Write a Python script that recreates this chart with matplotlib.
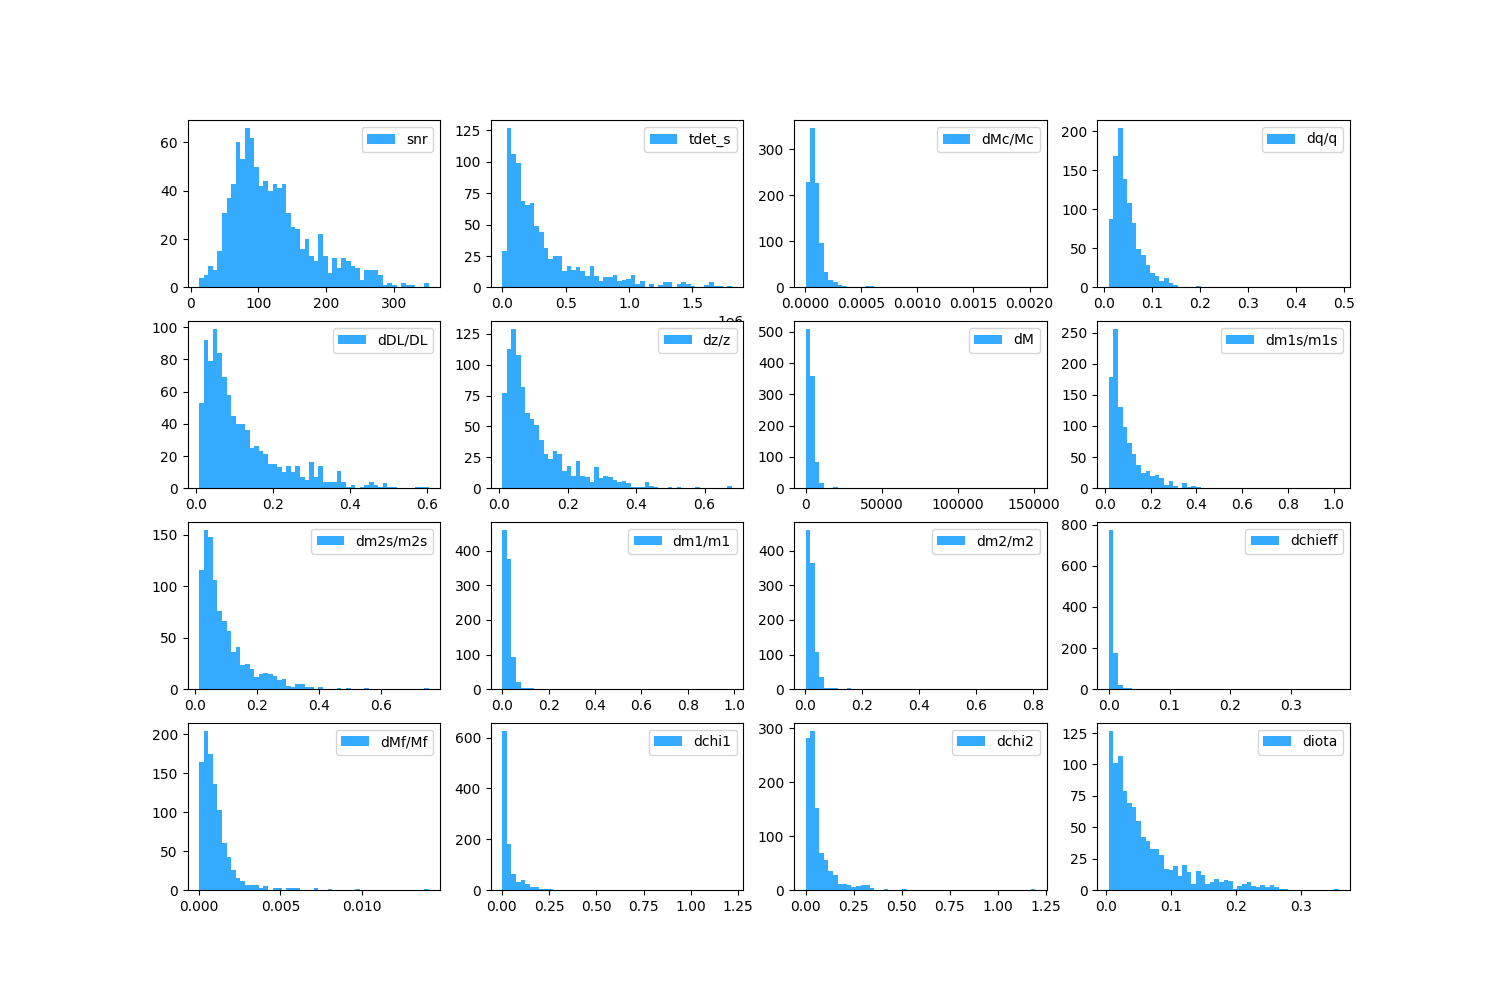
import numpy as np
import matplotlib
matplotlib.use("Agg")
import matplotlib.pyplot as plt

# panel names, in grid order
names = ["snr", "tdet_s", "dMc/Mc", "dq/q",
         "dDL/DL", "dz/z", "dM", "dm1s/m1s",
         "dm2s/m2s", "dm1/m1", "dm2/m2", "dchieff",
         "dMf/Mf", "dchi1", "dchi2", "diota"]

# (min, max) of each sample
ranges = [(12, 352), (0, 1.813e6), (7e-6, 2.05e-3), (0.010, 0.489),
          (0.008, 0.605), (0.009, 0.68), (0, 151000), (0.017, 1.02),
          (0.013, 0.754), (0.0, 0.99), (0.003, 0.808), (0.0, 0.378),
          (0.0, 0.0141), (0.002, 1.218), (0.0, 1.195), (0.0035, 0.357)]

# counts per bin (50 bins each)
snr = [4, 5, 9, 7, 15, 31, 37, 43, 60, 53,
       66, 62, 50, 42, 44, 40, 43, 41, 43, 31,
       25, 24, 16, 20, 13, 11, 22, 13, 6, 12,
       8, 12, 11, 9, 8, 3, 7, 7, 7, 5,
       1, 2, 1, 0, 2, 1, 1, 0, 0, 2]
tdet_s = [29, 127, 106, 99, 69, 66, 67, 49, 44, 31,
          23, 25, 25, 13, 17, 14, 16, 13, 9, 17,
          9, 5, 8, 8, 10, 5, 6, 7, 10, 3,
          5, 0, 3, 0, 2, 4, 4, 0, 3, 4,
          3, 1, 0, 0, 2, 4, 1, 1, 0, 1]
dMc = [229, 346, 227, 97, 33, 17, 12, 6, 3, 0,
       0, 0, 0, 2, 2, 0, 0, 0, 0, 0,
       0, 0, 0, 0, 0, 0, 0, 0, 0, 0,
       0, 0, 0, 0, 0, 0, 0, 0, 0, 0,
       0, 0, 0, 0, 0, 0, 0, 0, 0, 1]
dq = [87, 168, 204, 139, 108, 82, 49, 41, 29, 18,
      14, 8, 12, 6, 3, 0, 0, 0, 0, 2,
      0, 0, 0, 0, 0, 0, 0, 0, 0, 0,
      0, 0, 0, 0, 0, 0, 0, 0, 0, 0,
      0, 0, 0, 0, 0, 0, 0, 0, 0, 1]
dDL = [53, 92, 79, 99, 84, 69, 58, 45, 40, 40,
       36, 25, 26, 23, 21, 15, 15, 13, 10, 14,
       10, 14, 7, 5, 16, 7, 14, 4, 4, 4,
       11, 4, 1, 2, 0, 1, 2, 4, 2, 1,
       3, 1, 1, 0, 0, 0, 0, 1, 1, 1]
dz = [77, 113, 129, 108, 82, 61, 56, 51, 39, 28,
      24, 30, 28, 14, 18, 10, 22, 10, 9, 5,
      17, 8, 10, 9, 7, 5, 6, 4, 1, 1,
      1, 5, 2, 1, 0, 0, 1, 0, 1, 0,
      0, 0, 1, 0, 0, 0, 0, 0, 0, 2]
dM = [509, 359, 85, 16, 0, 0, 4, 0, 0, 0,
      0, 0, 0, 0, 0, 0, 0, 0, 0, 0,
      0, 0, 0, 0, 0, 0, 0, 0, 0, 0,
      0, 0, 0, 0, 0, 0, 0, 0, 0, 0,
      0, 0, 0, 0, 0, 0, 0, 0, 0, 1]
dm1s = [179, 256, 131, 99, 73, 55, 38, 25, 27, 19,
        22, 17, 5, 12, 3, 0, 8, 2, 4, 2,
        0, 0, 0, 0, 0, 0, 0, 0, 0, 0,
        0, 0, 0, 0, 0, 0, 0, 0, 0, 0,
        0, 0, 0, 0, 0, 0, 0, 0, 0, 1]
dm2s = [116, 155, 148, 106, 76, 66, 57, 36, 41, 23,
        24, 20, 12, 15, 16, 15, 13, 9, 10, 3,
        2, 5, 5, 2, 2, 0, 2, 0, 0, 0,
        1, 0, 1, 0, 0, 0, 1, 0, 0, 0,
        0, 0, 0, 0, 0, 0, 0, 0, 0, 1]
dm1 = [461, 377, 94, 22, 4, 4, 3, 0, 0, 0,
       0, 0, 0, 0, 0, 0, 0, 0, 0, 0,
       0, 0, 0, 0, 0, 0, 0, 0, 0, 0,
       0, 0, 0, 0, 0, 0, 0, 0, 0, 0,
       0, 0, 0, 0, 0, 0, 0, 0, 0, 1]
dm2 = [461, 366, 106, 34, 4, 4, 4, 0, 0, 4,
       0, 0, 0, 0, 0, 0, 0, 0, 0, 0,
       0, 0, 0, 0, 0, 0, 0, 0, 0, 0,
       0, 0, 0, 0, 0, 0, 0, 0, 0, 0,
       0, 0, 0, 0, 0, 0, 0, 0, 0, 1]
dchieff = [776, 178, 19, 6, 5, 0, 0, 0, 0, 0,
           0, 0, 0, 0, 0, 0, 0, 0, 0, 0,
           0, 0, 0, 0, 0, 0, 0, 0, 0, 0,
           0, 0, 0, 0, 0, 0, 0, 0, 0, 0,
           0, 0, 0, 0, 0, 0, 0, 0, 0, 1]
dMf = [164, 205, 175, 136, 103, 61, 43, 26, 16, 12,
       6, 7, 7, 3, 5, 0, 2, 2, 0, 2,
       2, 3, 0, 0, 0, 2, 0, 0, 1, 0,
       0, 0, 0, 0, 1, 0, 0, 0, 0, 0,
       0, 0, 0, 0, 0, 0, 0, 0, 0, 1]
dchi1 = [628, 180, 64, 30, 39, 24, 10, 10, 5, 5,
         4, 0, 0, 0, 0, 0, 0, 0, 0, 0,
         0, 0, 0, 0, 0, 0, 0, 0, 0, 0,
         0, 0, 0, 0, 0, 0, 0, 0, 0, 0,
         0, 0, 0, 0, 0, 0, 0, 0, 0, 1]
dchi2 = [283, 296, 153, 68, 55, 36, 27, 12, 12, 10,
         5, 7, 9, 9, 3, 0, 0, 2, 0, 0,
         0, 2, 0, 0, 0, 0, 0, 0, 0, 0,
         0, 0, 0, 0, 0, 0, 0, 0, 0, 0,
         0, 0, 0, 0, 0, 0, 0, 0, 0, 2]
diota = [127, 101, 107, 79, 69, 66, 55, 42, 39, 33,
         33, 28, 17, 16, 19, 11, 20, 14, 5, 15,
         12, 5, 6, 9, 6, 8, 7, 1, 3, 5,
         6, 3, 2, 4, 2, 4, 2, 1, 1, 0,
         0, 0, 0, 0, 0, 0, 0, 0, 0, 1]

counts = [snr, tdet_s, dMc, dq, dDL, dz, dM, dm1s,
          dm2s, dm1, dm2, dchieff, dMf, dchi1, dchi2, diota]

color = "#35abff"

fig, axes = plt.subplots(4, 4, figsize=(15, 10), dpi=100)

for ax, name, (lo, hi), c in zip(axes.flat, names, ranges, counts):
    edges = np.linspace(lo, hi, len(c) + 1)
    mids = 0.5 * (edges[:-1] + edges[1:])
    ax.hist(mids, bins=edges, weights=c, color=color, label=name)
    ax.legend(loc="upper right")

fig.savefig("out.png", dpi=100)
